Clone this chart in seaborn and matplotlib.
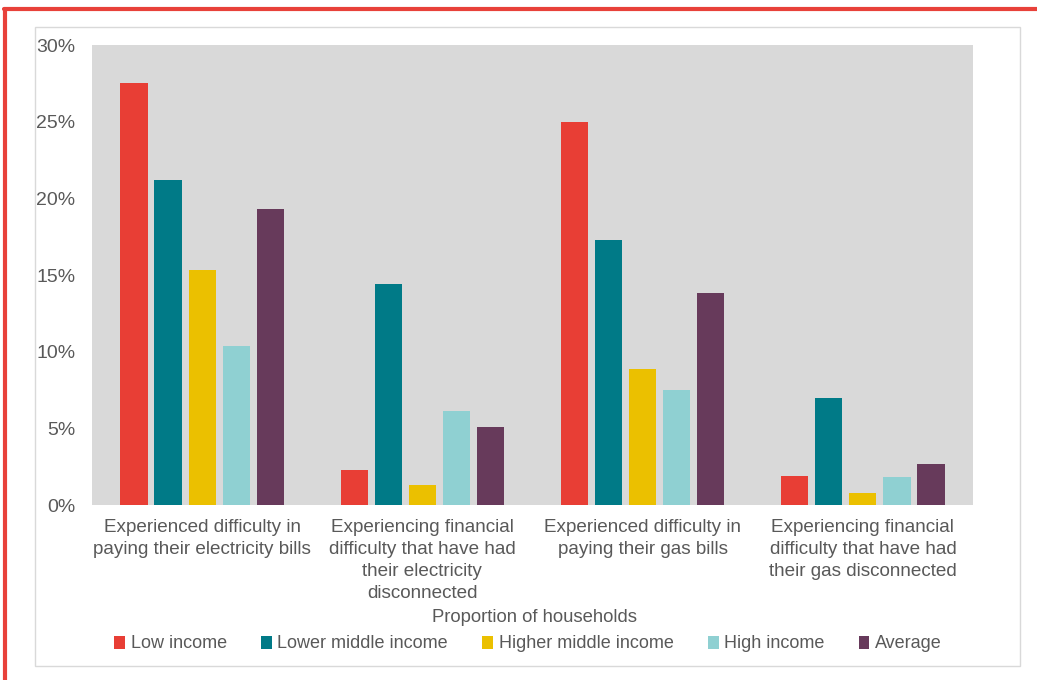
import matplotlib
matplotlib.use("Agg")
import matplotlib.pyplot as plt
import seaborn as sns
import pandas as pd
from matplotlib.lines import Line2D
from matplotlib.patches import Rectangle, Patch
from matplotlib.ticker import FuncFormatter

categories = [
    "Experienced difficulty in\npaying their electricity bills",
    "Experiencing financial\ndifficulty that have had\ntheir electricity\ndisconnected",
    "Experienced difficulty in\npaying their gas bills",
    "Experiencing financial\ndifficulty that have had\ntheir gas disconnected",
]
groups = ["Low income", "Lower middle income", "Higher middle income", "High income", "Average"]
low_income = [27.5, 2.3, 25.0, 1.9]
lower_middle = [21.2, 14.4, 17.3, 7.0]
higher_middle = [15.3, 1.3, 8.9, 0.8]
high_income = [10.4, 6.1, 7.5, 1.8]
average = [19.3, 5.1, 13.8, 2.7]
yticks = [0, 5, 10, 15, 20, 25, 30]

colors = ["#E83E35", "#007A87", "#EBC000", "#8FD0D2", "#673A5B"]

series = [low_income, lower_middle, higher_middle, high_income, average]
rows = []
for g, vals in zip(groups, series):
    for c, v in zip(categories, vals):
        rows.append({"category": c, "group": g, "value": v})
df = pd.DataFrame(rows)

sns.set_style("white")
plt.rcParams["font.family"] = ["Liberation Sans", "DejaVu Sans"]
TXT = "#595959"

fig = plt.figure(figsize=(10.37, 6.8), dpi=100)
W, H = 1037, 680
ax = fig.add_axes([92 / W, (H - 505) / H, 881 / W, 460 / H])
ax.set_facecolor("#D9D9D9")

sns.barplot(data=df, x="category", y="value", hue="group", hue_order=groups,
            order=categories, palette=colors, saturation=1, width=0.773, gap=0.2,
            linewidth=0, ax=ax, legend=False)

ax.set_ylim(0, 30)
ax.set_yticks(yticks)
ax.yaxis.set_major_formatter(FuncFormatter(lambda v, p: f"{int(v)}%"))
ax.tick_params(axis="y", length=0, pad=12, labelsize=14, labelcolor=TXT)
ax.tick_params(axis="x", length=0, pad=10, labelsize=13.6, labelcolor=TXT)
for lbl in ax.get_xticklabels():
    lbl.set_linespacing(1.4)
ax.set_xlabel("")
ax.set_ylabel("")
for s in ax.spines.values():
    s.set_visible(False)

# outer box and red frame
fig.add_artist(Rectangle((35 / W, (H - 666) / H), 985 / W, 639 / H,
                         transform=fig.transFigure, fill=False,
                         edgecolor="#D9D9D9", linewidth=1, zorder=-1))
fig.add_artist(Line2D([4 / W, 1.0], [(H - 9) / H, (H - 9) / H],
                      transform=fig.transFigure, color="#E8413A", linewidth=3))
fig.add_artist(Line2D([5 / W, 5 / W], [0, (H - 9) / H],
                      transform=fig.transFigure, color="#E8413A", linewidth=3))

fig.text(535 / W, (H - 617) / H, "Proportion of households", ha="center",
         va="center", fontsize=13.3, color=TXT)

handles = [Patch(facecolor=c, edgecolor="none") for c in colors]
fig.legend(handles, groups, loc="center", bbox_to_anchor=(528 / W, (H - 644) / H),
           ncol=5, frameon=False, fontsize=13, labelcolor=TXT,
           handlelength=0.6, handleheight=0.7, handletextpad=0.3,
           columnspacing=1.9)

fig.savefig("out.png", dpi=100)
